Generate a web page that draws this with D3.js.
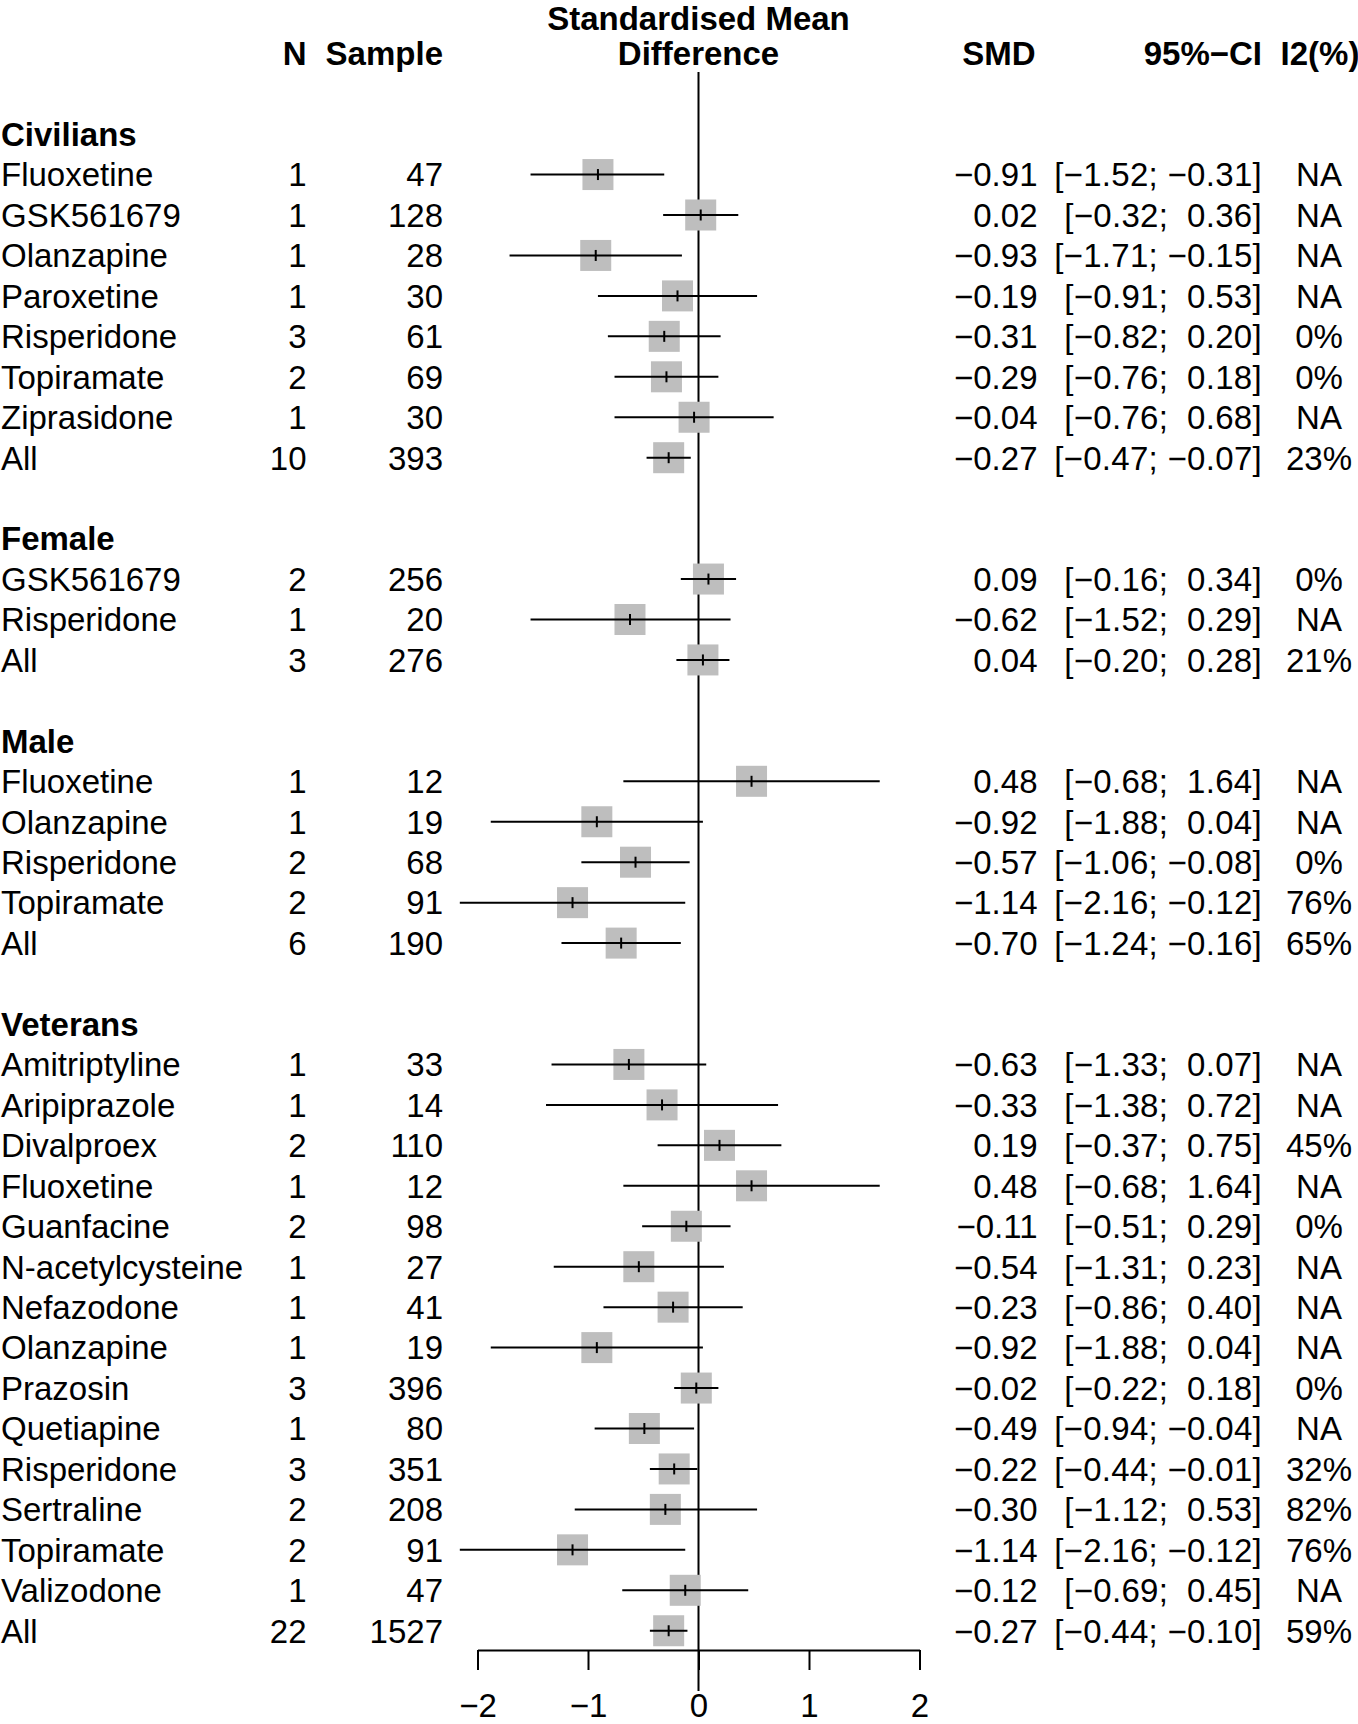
<!DOCTYPE html>
<html>
<head>
<meta charset="utf-8">
<script src="https://cdn.jsdelivr.net/npm/d3@7"></script>
<style>
  html, body { margin: 0; padding: 0; background: #ffffff; }
  svg text { font-family: "Liberation Sans", Arial, Helvetica, sans-serif; white-space: pre; }
</style>
</head>
<body>
<svg id="chart" width="1358" height="1724"></svg>
<script>
// ---------------- DATA ----------------
const groupNames = ["Civilians", "Female", "Male", "Veterans"];

const studyGroup = [
  0,0,0,0,0,0,0,0,
  1,1,1,
  2,2,2,2,2,
  3,3,3,3,3,3,3,3,3,3,3,3,3,3,3
];
const studyLabel = [
  "Fluoxetine","GSK561679","Olanzapine","Paroxetine","Risperidone","Topiramate","Ziprasidone","All",
  "GSK561679","Risperidone","All",
  "Fluoxetine","Olanzapine","Risperidone","Topiramate","All",
  "Amitriptyline","Aripiprazole","Divalproex","Fluoxetine","Guanfacine","N-acetylcysteine","Nefazodone",
  "Olanzapine","Prazosin","Quetiapine","Risperidone","Sertraline","Topiramate","Valizodone","All"
];
const studyN = [
  1,1,1,1,3,2,1,10,
  2,1,3,
  1,1,2,2,6,
  1,1,2,1,2,1,1,1,3,1,3,2,2,1,22
];
const studySample = [
  47,128,28,30,61,69,30,393,
  256,20,276,
  12,19,68,91,190,
  33,14,110,12,98,27,41,19,396,80,351,208,91,47,1527
];
const smd = [
  -0.91,0.02,-0.93,-0.19,-0.31,-0.29,-0.04,-0.27,
  0.09,-0.62,0.04,
  0.48,-0.92,-0.57,-1.14,-0.70,
  -0.63,-0.33,0.19,0.48,-0.11,-0.54,-0.23,-0.92,-0.02,-0.49,-0.22,-0.30,-1.14,-0.12,-0.27
];
const ciLower = [
  -1.52,-0.32,-1.71,-0.91,-0.82,-0.76,-0.76,-0.47,
  -0.16,-1.52,-0.20,
  -0.68,-1.88,-1.06,-2.16,-1.24,
  -1.33,-1.38,-0.37,-0.68,-0.51,-1.31,-0.86,-1.88,-0.22,-0.94,-0.44,-1.12,-2.16,-0.69,-0.44
];
const ciUpper = [
  -0.31,0.36,-0.15,0.53,0.20,0.18,0.68,-0.07,
  0.34,0.29,0.28,
  1.64,0.04,-0.08,-0.12,-0.16,
  0.07,0.72,0.75,1.64,0.29,0.23,0.40,0.04,0.18,-0.04,-0.01,0.53,-0.12,0.45,-0.10
];
const i2 = [
  null,null,null,null,0,0,null,23,
  0,null,21,
  null,null,0,76,65,
  null,null,45,null,0,null,null,null,0,null,32,82,76,null,59
];
const axisTicks = [-2, -1, 0, 1, 2];
const headerLabels = { n: "N", sample: "Sample", effect1: "Standardised Mean", effect2: "Difference",
                       smd: "SMD", ci: "95%\u2212CI", i2: "I2(%)" };

// ---------------- LAYOUT ----------------
const W = 1358, H = 1724;
const FS = 33;
const svg = d3.select("#chart");
svg.append("rect").attr("width", W).attr("height", H).attr("fill", "#ffffff");

// build row layout: group header, studies, blank between groups
const rows = [];
let idx = 0;
groupNames.forEach((g, gi) => {
  if (gi > 0) idx++; // blank line
  rows.push({ type: "group", label: g, idx: idx++ });
  studyLabel.forEach((lab, i) => {
    if (studyGroup[i] === gi) {
      rows.push({ type: "study", i, idx: idx++ });
    }
  });
});

const yRow = d3.scaleLinear().domain([0, 1]).range([134.1, 134.1 + 40.45]);
const x = d3.scaleLinear().domain([-2, 2]).range([477.5, 919.5]);

const colLabelX = 1, colNX = 306.5, colSampleX = 443, colSMDX = 1037.5, colCIX = 1262, colI2X = 1319;
const baseOff = FS * 0.358;

const minus = s => s.replace(/-/g, "\u2212");
const f2 = v => minus(v.toFixed(2));
const fmtCI = (lo, up) => "[" + (lo < 0 ? "" : " ") + f2(lo) + ";" + (up < 0 ? " " : "  ") + f2(up) + "]";

function txt(xp, yc, s, anchor, bold) {
  return svg.append("text")
    .attr("x", xp).attr("y", yc + baseOff)
    .attr("text-anchor", anchor)
    .attr("font-size", FS)
    .attr("font-weight", bold ? "bold" : "normal")
    .attr("fill", "#000")
    .text(s);
}

// headers
txt(x(0), yRow(-3) + 5, headerLabels.effect1, "middle", true);
txt(x(0), yRow(-2), headerLabels.effect2, "middle", true);
txt(colNX, yRow(-2), headerLabels.n, "end", true);
txt(colSampleX, yRow(-2), headerLabels.sample, "end", true);
txt(colSMDX - 2, yRow(-2), headerLabels.smd, "end", true);
txt(colCIX, yRow(-2), headerLabels.ci, "end", true);
txt(colI2X + 1, yRow(-2), headerLabels.i2, "middle", true);

// zero reference line
svg.append("line")
  .attr("x1", x(0)).attr("x2", x(0))
  .attr("y1", 72).attr("y2", 1691)
  .attr("stroke", "#000").attr("stroke-width", 2);

// rows
rows.forEach(r => {
  const yc = yRow(r.idx);
  if (r.type === "group") {
    txt(colLabelX, yc, r.label, "start", true);
    return;
  }
  const i = r.i;
  txt(colLabelX, yc, studyLabel[i], "start", false);
  txt(colNX, yc, String(studyN[i]), "end", false);
  txt(colSampleX, yc, String(studySample[i]), "end", false);
  txt(colSMDX, yc, f2(smd[i]), "end", false);
  txt(colCIX, yc, fmtCI(ciLower[i], ciUpper[i]), "end", false).attr("letter-spacing", 0.3);
  txt(colI2X, yc, i2[i] === null ? "NA" : i2[i] + "%", "middle", false);

  const sq = 31;
  svg.append("rect")
    .attr("x", x(smd[i]) - sq / 2).attr("y", yc - sq / 2)
    .attr("width", sq).attr("height", sq)
    .attr("fill", "#bebebe");
  svg.append("line")
    .attr("x1", x(ciLower[i])).attr("x2", x(ciUpper[i]))
    .attr("y1", yc).attr("y2", yc)
    .attr("stroke", "#000").attr("stroke-width", 2);
  svg.append("line")
    .attr("x1", x(smd[i])).attr("x2", x(smd[i]))
    .attr("y1", yc - 5.5).attr("y2", yc + 5.5)
    .attr("stroke", "#000").attr("stroke-width", 2);
});

// axis
const axisY = 1650;
const axis = d3.axisBottom(x)
  .tickValues(axisTicks)
  .tickSize(20)
  .tickSizeOuter(0)
  .tickFormat(d => minus(String(d)));
const gAxis = svg.append("g").attr("transform", `translate(0,${axisY})`).call(axis);
gAxis.select(".domain").attr("stroke", "#000").attr("stroke-width", 2);
gAxis.selectAll(".tick line").attr("stroke", "#000").attr("stroke-width", 2);
gAxis.selectAll(".tick text")
  .attr("font-size", FS)
  .attr("font-family", "'Liberation Sans', Arial, Helvetica, sans-serif")
  .attr("fill", "#000")
  .attr("y", 43.5).attr("dy", "0.71em");
</script>
</body>
</html>
